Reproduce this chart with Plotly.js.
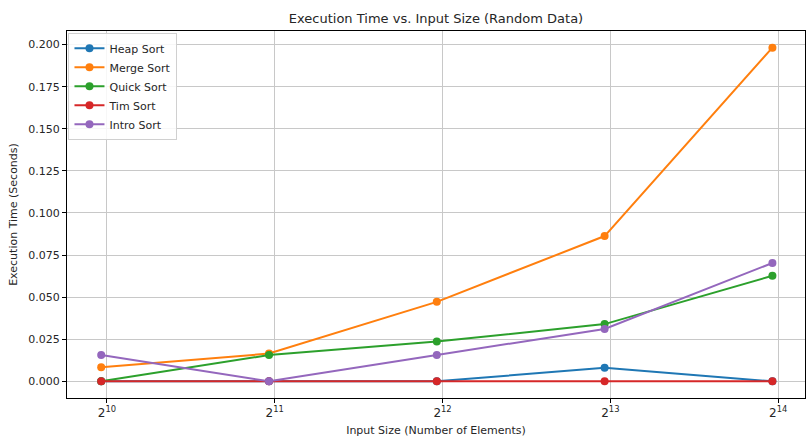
<!DOCTYPE html>
<html>
<head>
<meta charset="utf-8">
<script src="https://cdn.plot.ly/plotly-3.0.1.min.js"></script>
<style>html,body{margin:0;padding:0;background:#fff;}#chart{width:811px;height:439px;}</style>
</head>
<body>
<div id="chart"></div>
<script>
const inputSizes = [1000, 2000, 4000, 8000, 16000];
const heapSort  = [0.0, 0.0, 0.0, 0.0080, 0.0];
const mergeSort = [0.0083, 0.0165, 0.0472, 0.0863, 0.1982];
const quickSort = [0.0, 0.0156, 0.0236, 0.0340, 0.0627];
const timSort   = [0.0, 0.0, 0.0, 0.0, 0.0];
const introSort = [0.0157, 0.0, 0.0157, 0.0311, 0.0703];
const seriesNames = ["Heap Sort", "Merge Sort", "Quick Sort", "Tim Sort", "Intro Sort"];
const seriesColors = ["#1f77b4", "#ff7f0e", "#2ca02c", "#d62728", "#9467bd"];
const xTickVals = [1024, 2048, 4096, 8192, 16384];
const xTickText = ["2<sup>10</sup>", "2<sup>11</sup>", "2<sup>12</sup>", "2<sup>13</sup>", "2<sup>14</sup>"];

const allSeries = [heapSort, mergeSort, quickSort, timSort, introSort];
const traces = allSeries.map((ys, i) => ({
  x: inputSizes, y: ys, name: seriesNames[i], type: 'scatter', mode: 'lines+markers',
  line: {color: seriesColors[i], width: 2},
  marker: {color: seriesColors[i], size: 8}
}));

const L2 = Math.log10(2);
const font = {family: 'DejaVu Sans, sans-serif', color: '#262626'};
const layout = {
  width: 811, height: 439,
  margin: {l: 67, r: 6, t: 31, b: 41},
  paper_bgcolor: '#fff', plot_bgcolor: '#fff',
  font: Object.assign({size: 11}, font),
  title: {text: 'Execution Time vs. Input Size (Random Data)', x: 0.5, xref: 'paper', y: 0.958, yref: 'container', yanchor: 'middle',
          font: Object.assign({}, font, {size: 13})},
  xaxis: {type: 'log', range: [9.762 * L2, 14.16 * L2],
          tickvals: xTickVals, ticktext: xTickText,
          showgrid: true, gridcolor: '#c8c8c8', gridwidth: 1,
          showline: true, linecolor: '#000', linewidth: 1, mirror: true,
          ticks: 'outside', ticklen: 4, tickcolor: '#000', zeroline: false,
          tickfont: Object.assign({}, font, {size: 12}),
          title: {text: 'Input Size (Number of Elements)', standoff: 6, font: Object.assign({}, font, {size: 11})}},
  yaxis: {range: [-0.0099, 0.2081], dtick: 0.025, tick0: 0, tickformat: '.3f',
          showgrid: true, gridcolor: '#c8c8c8', gridwidth: 1,
          showline: true, linecolor: '#000', linewidth: 1, mirror: true,
          ticks: 'outside', ticklen: 4, tickcolor: '#000', zeroline: false,
          tickfont: Object.assign({}, font, {size: 11}),
          title: {text: 'Execution Time (Seconds)', standoff: 8, font: Object.assign({}, font, {size: 11})}},
  showlegend: true,
  legend: {x: 0.002, y: 0.995, xanchor: 'left', yanchor: 'top',
           bgcolor: 'rgba(255,255,255,0.85)', bordercolor: '#d0d0d0', borderwidth: 1,
           font: Object.assign({}, font, {size: 11}), tracegroupgap: 0, itemwidth: 30}
};
Plotly.newPlot('chart', traces, layout, {displayModeBar: false, staticPlot: true});
</script>
</body>
</html>
